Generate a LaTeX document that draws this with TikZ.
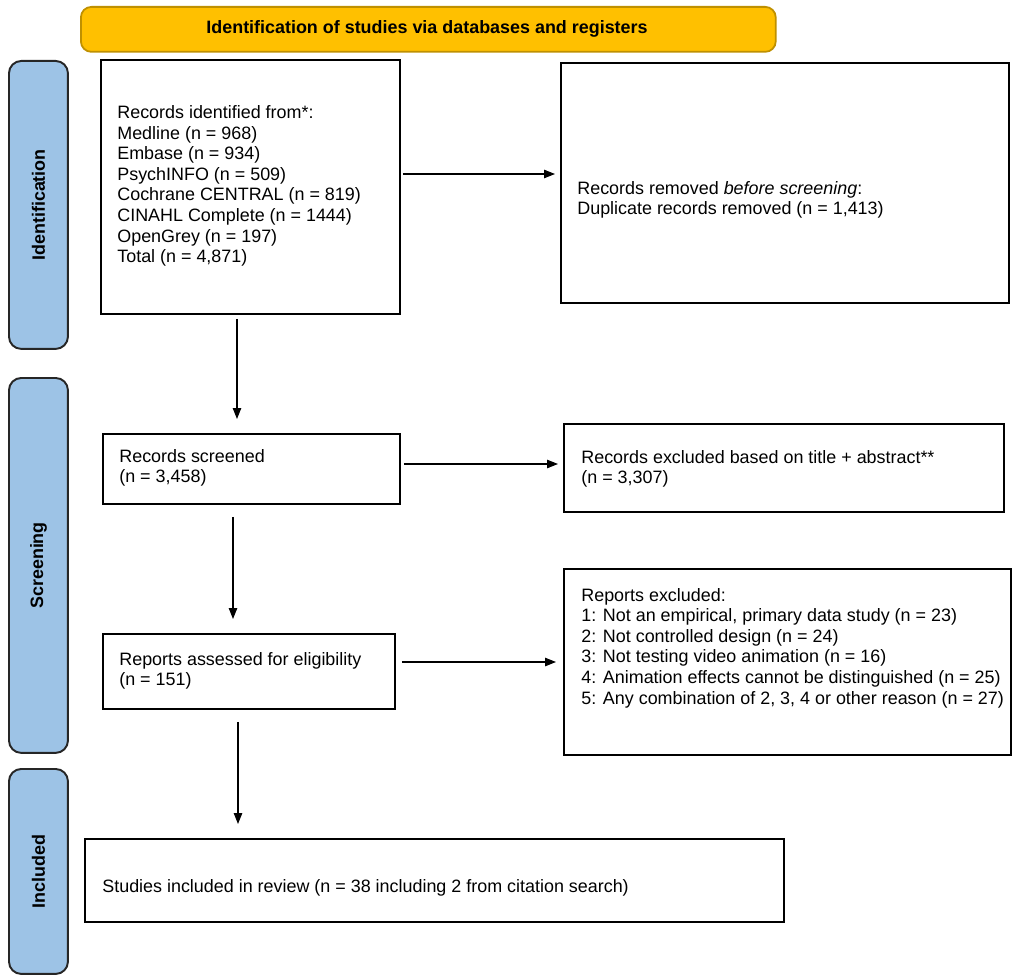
\documentclass[tikz,border=0pt]{standalone}
\usepackage{fontspec}
\setmainfont{Liberation Sans}
\usetikzlibrary{arrows.meta}
\definecolor{bannerfill}{HTML}{FFC000}
\definecolor{bannerdraw}{HTML}{BF9000}
\definecolor{sidefill}{HTML}{9DC3E6}
\begin{document}
\begin{tikzpicture}[x=0.02cm,y=-0.02cm,
  font=\fontsize{10.2}{11.7}\selectfont,
  box/.style={draw=black, line width=1.1pt, inner sep=0pt, anchor=north west},
  txt/.style={anchor=west, align=left, inner sep=0pt},
  side/.style={draw=black!85, line width=1.1pt, fill=sidefill, rounded corners=7pt, inner sep=0pt, anchor=north west},
  sidelbl/.style={rotate=90, inner sep=0pt, font=\fontsize{10.2}{11.7}\selectfont\bfseries},
  banner/.style={draw=bannerdraw, line width=1pt, fill=bannerfill, rounded corners=6pt, inner sep=0pt, anchor=north west},
  arr/.style={draw=black, line width=0.6pt, -{Triangle[length=0.22cm,width=0.17cm]}},
]
\useasboundingbox (0,0) rectangle (1026,979);

% banner
\node[banner, minimum width=13.9cm, minimum height=0.9cm] (ban) at (80,6) {};
\node[inner sep=0pt, font=\fontsize{10.2}{11.7}\selectfont\bfseries] (bant) at (427,29) {Identification of studies via databases and registers};

% side labels
\node[side, minimum width=1.18cm, minimum height=5.76cm] (s1) at (8,60) {};
\node[sidelbl] (s1t) at (s1.center) {Identification};
\node[side, minimum width=1.18cm, minimum height=7.5cm] (s2) at (8,377) {};
\node[sidelbl] (s2t) at (s2.center) {Screening};
\node[side, minimum width=1.18cm, minimum height=4.1cm] (s3) at (8,768) {};
\node[sidelbl] (s3t) at (s3.center) {Included};

% boxes
\node[box, minimum width=5.98cm, minimum height=5.08cm] (b1) at (100,59) {};
\node[txt] (t1) at (117,186) {Records identified from*:\\Medline (n = 968)\\Embase (n = 934)\\PsychINFO (n = 509)\\Cochrane CENTRAL (n = 819)\\CINAHL Complete (n = 1444)\\OpenGrey (n = 197)\\Total (n = 4,871)};

\node[box, minimum width=8.96cm, minimum height=4.8cm] (b2) at (560,62) {};
\node[txt] (t2) at (577,200) {Records removed \textit{before screening}:\\Duplicate records removed (n = 1,413)};

\node[box, minimum width=5.94cm, minimum height=1.40cm] (b3) at (102,433) {};
\node[txt] (t3) at (119,468) {Records screened\\(n = 3,458)};

\node[box, minimum width=8.8cm, minimum height=1.76cm] (b4) at (563,423) {};
\node[txt] (t4) at (581,469) {Records excluded based on title + abstract**\\(n = 3,307)};

\node[box, minimum width=5.84cm, minimum height=1.5cm] (b5) at (102,633) {};
\node[txt] (t5) at (119,671) {Reports assessed for eligibility\\(n = 151)};

\node[box, minimum width=8.94cm, minimum height=3.72cm] (b6) at (563,568) {};
\node[txt] (t6) at (581,648) {Reports excluded:\\1: Not an empirical, primary data study (n = 23)\\2: Not controlled design (n = 24)\\3: Not testing video animation (n = 16)\\4: Animation effects cannot be distinguished (n = 25)\\5: Any combination of 2, 3, 4 or other reason (n = 27)};

\node[box, minimum width=13.98cm, minimum height=1.66cm] (b7) at (84,838) {};
\node[txt] (t7) at (102,888) {Studies included in review (n = 38 including 2 from citation search)};

% connector guides
\coordinate (r1) at (0,174);
\coordinate (r2) at (0,464);
\coordinate (r3) at (0,662);
\coordinate (c1) at (237,0);
\coordinate (c2) at (233,0);
\coordinate (c3) at (238,0);

\draw[arr, shorten <=0.04cm, shorten >=0.1cm] (b1.east |- r1) -- (b2.west |- r1);
\draw[arr, shorten <=0.06cm, shorten >=0.1cm] (b3.east |- r2) -- (b4.west |- r2);
\draw[arr, shorten <=0.12cm, shorten >=0.14cm] (b5.east |- r3) -- (b6.west |- r3);
\draw[arr, shorten <=0.08cm, shorten >=0.28cm] (b1.south -| c1) -- (b3.north -| c1);
\draw[arr, shorten <=0.24cm, shorten >=0.28cm] (b3.south -| c2) -- (b5.north -| c2);
\draw[arr, shorten <=0.24cm, shorten >=0.28cm] (b5.south -| c3) -- (b7.north -| c3);
\end{tikzpicture}
\end{document}
